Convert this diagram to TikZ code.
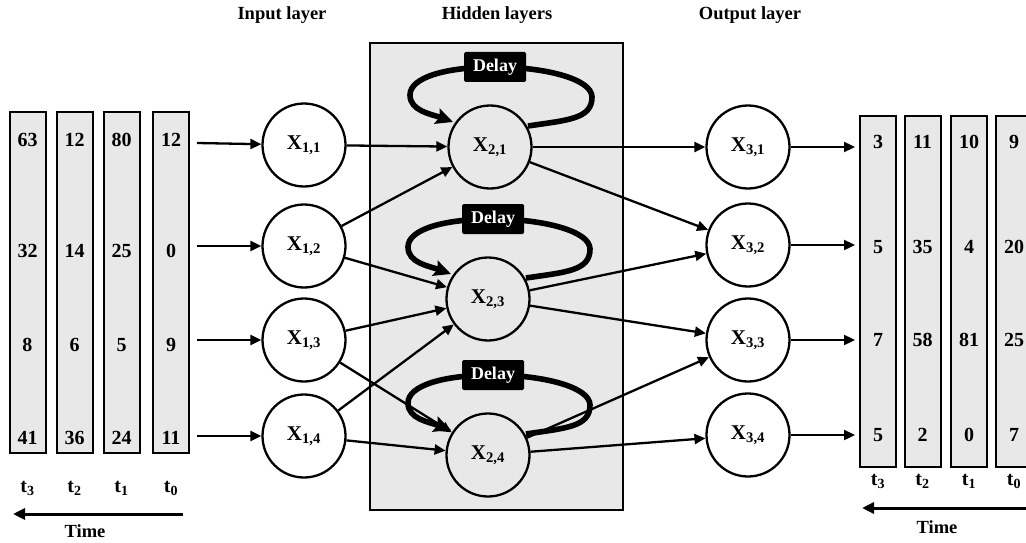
\documentclass[tikz,border=0pt]{standalone}
\usepackage{fontspec}
\setmainfont{Liberation Serif}
\usetikzlibrary{arrows.meta,calc}
\begin{document}
\begin{tikzpicture}[x=1pt,y=-1pt,
  every node/.style={font=\bfseries},
  col/.style={draw, line width=2pt, fill=black!9, inner sep=0pt, minimum width=36pt},
  val/.style={font=\fontsize{20}{20}\selectfont\bfseries, inner sep=0pt},
  tlab/.style={font=\fontsize{20}{20}\selectfont\bfseries, inner sep=0pt},
  head/.style={font=\fontsize{18.5}{18.5}\selectfont\bfseries, inner sep=0pt},
  neuron/.style={circle, draw, line width=2.3pt, fill=white, minimum size=83pt, inner sep=0pt,
    font=\fontsize{21}{21}\selectfont\bfseries},
  hneuron/.style={neuron, fill=black!9},
  link/.style={line width=2.3pt, -{Triangle[length=11pt,width=10pt]}},
  timearrow/.style={line width=3pt, -{Triangle[length=12pt,width=11pt]}},
  feedback/.style={line width=5.6pt, -{Stealth[length=17pt,width=16pt,inset=3pt]}},
  delaybox/.style={fill=black, text=white, rounded corners=1.5pt, minimum width=62pt,
    minimum height=30pt, inner sep=0pt, font=\fontsize{18}{18}\selectfont\bfseries},
]
\useasboundingbox (0,0) rectangle (1026,543);
\clip (0,0) rectangle (1026,543);

% column headings
\node[head] (hin)  at (282,15) {Input layer};
\node[head] (hhid) at (497,15) {Hidden layers};
\node[head] (hout) at (750,15) {Output layer};

% hidden-layer panel
\node[draw, line width=1.3pt, fill=black!9, minimum width=253pt, minimum height=467pt,
  inner sep=0pt] (panel) at (496.5,276.5) {};

% input sequence (left)
\foreach \c/\x/\lab/\va/\vb/\vc/\vd in
  {3/27.5/3/63/32/8/41, 2/74.5/2/12/14/6/36, 1/121.5/1/80/25/5/24, 0/171/0/12/0/9/11}{
  \node[col, minimum height=341pt] (L\c) at (\x,282.5) {};
  \node[val] (L\c a) at (\x,140) {\va};
  \node[val] (L\c b) at (\x,251) {\vb};
  \node[val] (L\c c) at (\x,345) {\vc};
  \node[val] (L\c d) at (\x,438) {\vd};
  \node[tlab] (Lt\c) at (\x,488) {t\textsubscript{\lab}};
}
\coordinate (ltimeA) at (183,514);
\coordinate (ltimeB) at (13,514);
\draw[timearrow] (ltimeA) -- (ltimeB);
\node[head] (ltime) at (85,531) {Time};

% output sequence (right)
\foreach \c/\x/\lab/\va/\vb/\vc/\vd in
  {3/878/3/3/5/7/5, 2/922.5/2/11/35/58/2, 1/969/1/10/4/81/0, 0/1014/0/9/20/25/7}{
  \node[col, minimum height=351pt] (R\c) at (\x,291.5) {};
  \node[val] (R\c a) at (\x,142) {\va};
  \node[val] (R\c b) at (\x,247) {\vb};
  \node[val] (R\c c) at (\x,340) {\vc};
  \node[val] (R\c d) at (\x,435) {\vd};
  \node[tlab] (Rt\c) at (\x,481) {t\textsubscript{\lab}};
}
\coordinate (rtimeA) at (1030,508);
\coordinate (rtimeB) at (862,508);
\draw[timearrow] (rtimeA) -- (rtimeB);
\node[head] (rtime) at (937,527) {Time};

% recurrent loops with delay units
\foreach \h/\hx/\hy in {H1/490/147, H3/488/299, H4/488/455}{
  \coordinate (\h c) at (\hx,\hy);
  \draw[feedback] ($(\h c)+(38,-21)$)
    .. controls +(40,-6) and +(0,22) .. ($(\h c)+(102,-50)$)
    .. controls +(0,-18) and +(50,0) .. ($(\h c)+(5,-80)$)
    .. controls +(-48,0) and +(0,-18) .. ($(\h c)+(-80,-52)$)
    .. controls +(0,16) and +(-22,-8) .. ($(\h c)+(-37,-25)$);
  \node[delaybox] (\h d) at ($(\h c)+(5,-80)$) {Delay};
}

% neurons
\node[neuron] (I1) at (304,145) {X\textsubscript{1,1}};
\node[neuron] (I2) at (304,246) {X\textsubscript{1,2}};
\node[neuron] (I3) at (304,340) {X\textsubscript{1,3}};
\node[neuron] (I4) at (304,436) {X\textsubscript{1,4}};

\node[hneuron] (H1) at (H1c) {X\textsubscript{2,1}};
\node[hneuron] (H3) at (H3c) {X\textsubscript{2,3}};
\node[hneuron] (H4) at (H4c) {X\textsubscript{2,4}};

\node[neuron] (O1) at (748,147) {X\textsubscript{3,1}};
\node[neuron] (O2) at (748,245) {X\textsubscript{3,2}};
\node[neuron] (O3) at (748,340) {X\textsubscript{3,3}};
\node[neuron] (O4) at (748,435) {X\textsubscript{3,4}};

% inputs feeding the first layer
\foreach \i/\y in {1/143, 2/246, 3/340, 4/436}{
  \coordinate (in\i) at (197,\y);
  \draw[link] (in\i) -- (I\i);
}

% first layer to hidden layer
\draw[link] (I1) -- (H1);
\draw[link] (I2) -- (H1);
\draw[link] (I2) -- (H3);
\draw[link] (I3) -- (H3);
\draw[link] (I3) -- (H4);
\draw[link] (I4) -- (H3);
\draw[link] (I4) -- (H4);

% hidden layer to output layer
\draw[link] (H1) -- (O1);
\draw[link] (H1) -- (O2);
\draw[link] (H3) -- (O2);
\draw[link] (H3) -- (O3);
\draw[link] (H4) -- (O3);
\draw[link] (H4) -- (O4);

% outputs leaving the last layer
\foreach \i/\y in {1/147, 2/245, 3/340, 4/435}{
  \coordinate (out\i) at (855,\y);
  \draw[link] (O\i) -- (out\i);
}
\end{tikzpicture}
\end{document}
